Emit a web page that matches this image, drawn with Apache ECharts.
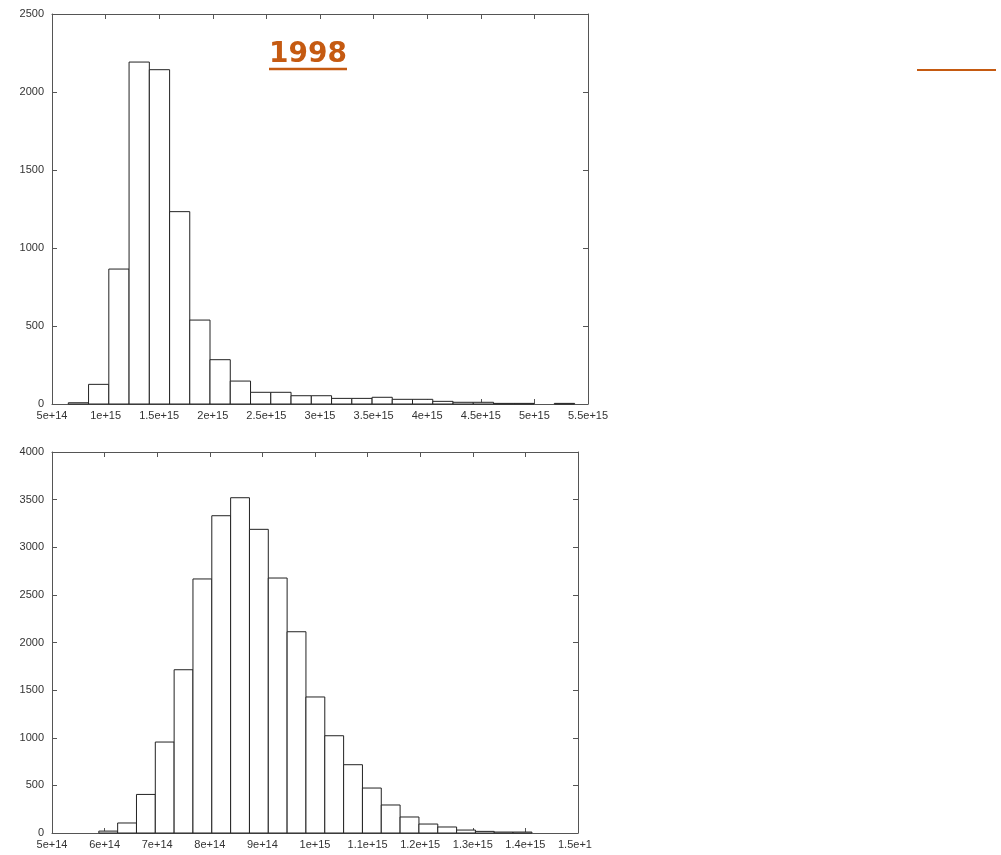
<!DOCTYPE html>
<html>
<head>
<meta charset="utf-8">
<script src="https://cdn.jsdelivr.net/npm/echarts@6/dist/echarts.min.js"></script>
<style>
html,body{margin:0;padding:0;background:#ffffff;}
#chart{width:1001px;height:855px;}
</style>
</head>
<body>
<div id="chart"></div>
<script>
// ---- Top histogram (1998) ----
const topBinEdges = [0.652e15, 0.841e15, 1.030e15, 1.219e15, 1.408e15, 1.597e15, 1.785e15, 1.974e15,
  2.163e15, 2.352e15, 2.541e15, 2.730e15, 2.919e15, 3.108e15, 3.297e15, 3.486e15, 3.674e15,
  3.863e15, 4.052e15, 4.241e15, 4.430e15, 4.619e15, 4.808e15, 4.997e15, 5.186e15, 5.375e15];
const topCounts = [8, 126, 865, 2192, 2143, 1233, 538, 284, 147, 75, 75, 53, 53, 36, 36, 43, 30, 30, 17, 11, 11, 4, 4, 0, 4];
const topXTicks = ['5e+14', '1e+15', '1.5e+15', '2e+15', '2.5e+15', '3e+15', '3.5e+15', '4e+15', '4.5e+15', '5e+15', '5.5e+15'];
const topYTicks = ['0', '500', '1000', '1500', '2000', '2500'];

// ---- Bottom histogram ----
const botBinEdges = [5.890e14, 6.248e14, 6.606e14, 6.964e14, 7.322e14, 7.680e14, 8.038e14, 8.396e14,
  8.754e14, 9.112e14, 9.470e14, 9.828e14, 10.186e14, 10.544e14, 10.902e14, 11.260e14, 11.618e14,
  11.976e14, 12.334e14, 12.692e14, 13.050e14, 13.408e14, 13.766e14, 14.124e14];
const botCounts = [20, 105, 405, 955, 1714, 2667, 3331, 3520, 3188, 2677, 2113, 1428, 1021, 717, 472, 294, 168, 94, 63, 31, 17, 10, 10];
const botXTicks = ['5e+14', '6e+14', '7e+14', '8e+14', '9e+14', '1e+15', '1.1e+15', '1.2e+15', '1.3e+15', '1.4e+15', '1.5e+15'];
const botYTicks = ['0', '500', '1000', '1500', '2000', '2500', '3000', '3500', '4000'];

const titleText = '1998';

function binData(edges, counts) {
  return counts.map((c, i) => [edges[i], edges[i + 1], c]);
}

function tickFormatter(arr, min, interval) {
  return function (v) {
    const i = Math.round((v - min) / interval);
    return arr[i] !== undefined ? arr[i] : '';
  };
}

const axisColor = '#555555';
const labelStyle = { color: '#333333', fontSize: 11, fontFamily: 'Liberation Sans, Arial, sans-serif' };

function xAxes(gridIndex, min, max, interval, ticks) {
  return [
    {
      gridIndex, type: 'value', position: 'bottom', min, max, interval,
      axisLine: { show: true, onZero: false, lineStyle: { color: axisColor, width: 1 } },
      axisTick: { show: true, inside: true, length: 5, lineStyle: { color: axisColor } },
      axisLabel: Object.assign({ margin: 6, formatter: tickFormatter(ticks, min, interval), showMaxLabel: true, showMinLabel: true }, labelStyle),
      splitLine: { show: false }
    },
    {
      gridIndex, type: 'value', position: 'top', min, max, interval,
      axisLine: { show: true, onZero: false, lineStyle: { color: axisColor, width: 1 } },
      axisTick: { show: true, inside: true, length: 5, lineStyle: { color: axisColor } },
      axisLabel: { show: false },
      splitLine: { show: false }
    }
  ];
}

function yAxes(gridIndex, min, max, interval, ticks) {
  return [
    {
      gridIndex, type: 'value', position: 'left', min, max, interval,
      axisLine: { show: true, onZero: false, lineStyle: { color: axisColor, width: 1 } },
      axisTick: { show: true, inside: true, length: 5, lineStyle: { color: axisColor } },
      axisLabel: Object.assign({ margin: 8, formatter: tickFormatter(ticks, min, interval) }, labelStyle),
      splitLine: { show: false }
    },
    {
      gridIndex, type: 'value', position: 'right', min, max, interval,
      axisLine: { show: true, onZero: false, lineStyle: { color: axisColor, width: 1 } },
      axisTick: { show: true, inside: true, length: 5, lineStyle: { color: axisColor } },
      axisLabel: { show: false },
      splitLine: { show: false }
    }
  ];
}

function renderBar(params, api) {
  const x0 = api.value(0), x1 = api.value(1), y = api.value(2);
  if (y <= 0) return null;
  const p0 = api.coord([x0, y]);
  const p1 = api.coord([x1, 0]);
  return {
    type: 'rect',
    shape: { x: p0[0], y: p0[1], width: p1[0] - p0[0], height: p1[1] - p0[1] },
    style: { fill: '#ffffff', stroke: '#222222', lineWidth: 1 }
  };
}

const chart = echarts.init(document.getElementById('chart'), null, { renderer: 'canvas' });

const option = {
  backgroundColor: '#ffffff',
  animation: false,
  grid: [
    { left: 52, top: 14, width: 536, height: 390 },
    { left: 52, top: 452, width: 526, height: 381 }
  ],
  xAxis: [].concat(
    xAxes(0, 5e14, 5.5e15, 5e14, topXTicks),
    xAxes(1, 5e14, 1.5e15, 1e14, botXTicks)
  ),
  yAxis: [].concat(
    yAxes(0, 0, 2500, 500, topYTicks),
    yAxes(1, 0, 4000, 500, botYTicks)
  ),
  series: [
    {
      type: 'custom', xAxisIndex: 0, yAxisIndex: 0,
      renderItem: renderBar, encode: { x: [0, 1], y: 2 },
      data: binData(topBinEdges, topCounts), clip: false, z: 1
    },
    {
      type: 'custom', xAxisIndex: 2, yAxisIndex: 2,
      renderItem: renderBar, encode: { x: [0, 1], y: 2 },
      data: binData(botBinEdges, botCounts), clip: false, z: 1
    }
  ],
  graphic: [
    {
      type: 'text', left: 269, top: 41, z: 10,
      style: { text: titleText, fill: '#C55A11', fontSize: 28, fontWeight: 'bold', fontFamily: 'DejaVu Sans, Verdana, sans-serif' }
    },
    {
      type: 'line', z: 10,
      shape: { x1: 269, y1: 69, x2: 347, y2: 69 },
      style: { stroke: '#C55A11', lineWidth: 2.5 }
    },
    {
      type: 'line', z: 10,
      shape: { x1: 917, y1: 70, x2: 996, y2: 70 },
      style: { stroke: '#C55A11', lineWidth: 2 }
    },
    {
      type: 'rect', z: 20,
      shape: { x: 592, y: 837, width: 40, height: 18 },
      style: { fill: '#ffffff' }
    }
  ]
};

chart.setOption(option);
</script>
</body>
</html>
